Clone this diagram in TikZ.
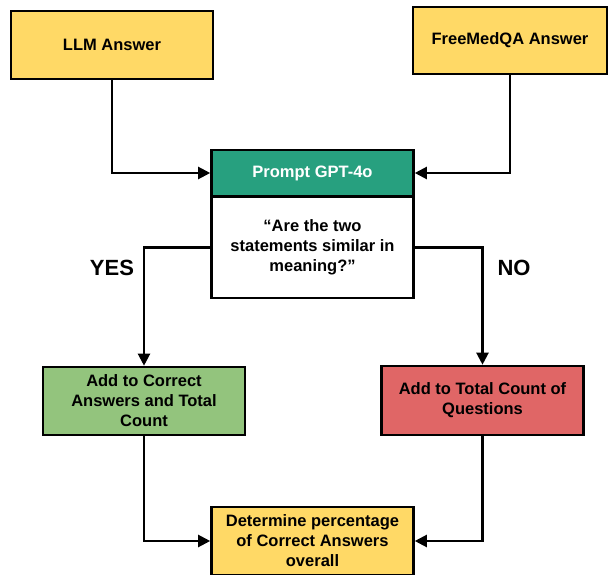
\documentclass[tikz,border=0pt]{standalone}
\usepackage{fontspec}
\setmainfont{Liberation Sans}
\usetikzlibrary{arrows.meta}
\definecolor{cyellow}{HTML}{FFD966}
\definecolor{cgreen}{HTML}{93C47D}
\definecolor{cred}{HTML}{E06666}
\definecolor{cteal}{HTML}{27A07F}
\begin{document}
\begin{tikzpicture}[x=1pt,y=-1pt,
  box/.style={draw=black,line width=2.6pt,rectangle,inner sep=0pt,align=center,
    font=\fontsize{16.5}{20}\selectfont\bfseries,minimum width=202pt},
  conn/.style={line width=2.2pt,-{Triangle[length=12pt,width=12pt]}},
  lbl/.style={font=\fontsize{22}{26}\selectfont\bfseries}]
\useasboundingbox (0,0) rectangle (608,575);
\node[box,fill=cyellow,minimum height=68pt] (llm) at (112,45) {LLM Answer};
\node[box,fill=cyellow,minimum width=194pt,minimum height=67pt] (fmq) at (510,40.5) {FreeMedQA Answer};
\node[box,fill=cteal,text=white,minimum height=46pt] (hdr) at (312.5,173) {Prompt GPT-4o};
\node[box,fill=white,minimum height=101pt] (q) at (312.5,247.5) {“Are the two\\statements similar in\\meaning?”};
\node[box,fill=cgreen,minimum height=68pt] (grn) at (144,401) {Add to Correct\\Answers and Total\\Count};
\node[box,fill=cred,minimum height=69pt] (red) at (482.5,400.5) {Add to Total Count of\\Questions};
\node[box,fill=cyellow,minimum height=68pt] (det) at (312.5,541) {Determine percentage\\of Correct Answers\\overall};
\node[lbl] (yes) at (112,268) {YES};
\node[lbl] (no) at (514,268) {NO};
\draw[conn] (llm.south) |- (hdr.west);
\draw[conn] (fmq.south) |- (hdr.east);
\draw[conn] (q.west) -| (grn.north);
\draw[conn] (q.east) -| (red.north);
\draw[conn] (grn.south) |- (det.west);
\draw[conn] (red.south) |- (det.east);
\end{tikzpicture}
\end{document}
